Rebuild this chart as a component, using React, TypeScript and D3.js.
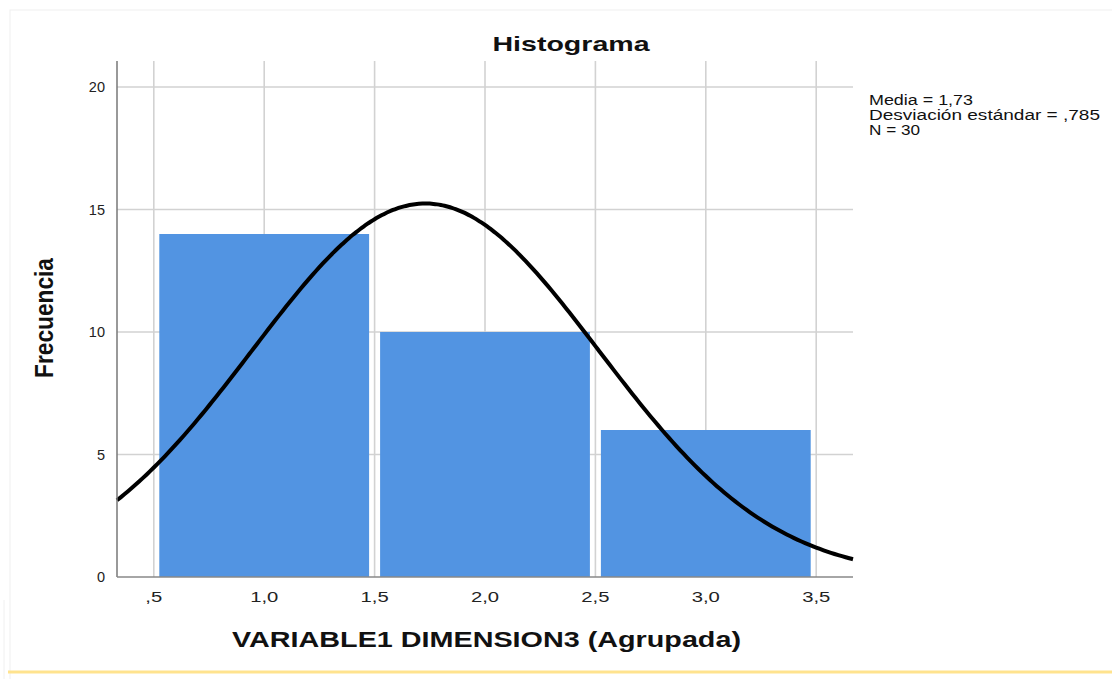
import React from 'react';
import * as d3 from 'd3';

// histogram bins (lower edge, upper edge) and counts
const binStarts = [0.5, 1.5, 2.5];
const binEnds = [1.5, 2.5, 3.5];
const counts = [14, 10, 6];

// summary stats printed in the legend
const mean = 1.73;
const sd = 0.785;
const n = 30;

const xTicks = [0.5, 1.0, 1.5, 2.0, 2.5, 3.0, 3.5];
const yTicks = [0, 5, 10, 15, 20];
const legendLines = ['Media = 1,73', 'Desviación estándar = ,785', 'N = 30'];
const legendWidths = [104, 231, 51];

const W = 1112;
const H = 679;
const left = 117;
const right = 853;
const top = 61;
const bottom = 577;

const fmtX = (v: number) => {
  const s = v.toFixed(1).replace('.', ',');
  return s.startsWith('0') ? s.slice(1) : s;
};

export default function App() {
  const x = d3.scaleLinear().domain([1 / 3, 11 / 3]).range([left, right]);
  const y = d3.scaleLinear().domain([0, 20]).range([bottom, 87]);

  // normal curve scaled to counts (bin width 1)
  const binW = binEnds[0] - binStarts[0];
  const pdf = (v: number) =>
    (n * binW) / (sd * Math.sqrt(2 * Math.PI)) * Math.exp(-0.5 * ((v - mean) / sd) ** 2);
  const curvePts = d3.range(0, 201).map(i => {
    const v = 1 / 3 + (i / 200) * (10 / 3);
    return [v, pdf(v)] as [number, number];
  });
  const line = d3.line<[number, number]>()
    .x(d => x(d[0]))
    .y(d => y(d[1]))
    .curve(d3.curveBasis);

  const font = '"Liberation Sans", Arial, sans-serif';
  const gap = 5.5;

  return (
    <svg width={W} height={H} style={{ position: 'absolute', left: 0, top: 0, background: '#fff' }}>
      <rect x={10} y={10} width={W + 10} height={H} fill="none" stroke="#f0f0f0" strokeWidth={1} />
      <line x1={4} x2={4} y1={600} y2={H} stroke="#f0f0f0" />
      <text x={571} y={51} textAnchor="middle" fontFamily={font} fontWeight="bold" fontSize={21} fill="#111"
        textLength={157} lengthAdjust="spacingAndGlyphs">
        Histograma
      </text>

      {/* grid */}
      {xTicks.map(t => (
        <line key={'gx' + t} x1={x(t)} x2={x(t)} y1={top} y2={bottom} stroke="#d2d2d2" strokeWidth={1.6} />
      ))}
      {yTicks.filter(t => t > 0).map(t => (
        <line key={'gy' + t} x1={left} x2={right} y1={y(t)} y2={y(t)} stroke="#d2d2d2" strokeWidth={1.6} />
      ))}

      {/* bars */}
      {counts.map((c, i) => (
        <rect
          key={'b' + i}
          x={x(binStarts[i]) + gap}
          width={x(binEnds[i]) - x(binStarts[i]) - 2 * gap}
          y={y(c)}
          height={y(0) - y(c)}
          fill="#5294E2"
        />
      ))}

      <path d={line(curvePts) || ''} fill="none" stroke="#000" strokeWidth={4} />

      {/* axes */}
      <line x1={left} x2={left} y1={top} y2={bottom} stroke="#777" strokeWidth={1.5} />
      <line x1={left} x2={right} y1={bottom} y2={bottom} stroke="#888" strokeWidth={1.5} />

      {yTicks.map(t => (
        <text key={'yl' + t} x={105} y={y(t) + 5} textAnchor="end" fontFamily={font} fontSize={14.5} fill="#222">
          {t}
        </text>
      ))}
      {xTicks.map(t => (
        <text key={'xl' + t} transform={`translate(${x(t)}, 602) scale(1.35, 1)`} textAnchor="middle"
          fontFamily={font} fontSize={15} fill="#222">
          {fmtX(t)}
        </text>
      ))}

      <text
        transform={`translate(53, 318) scale(1.26, 1) rotate(-90)`}
        textAnchor="middle"
        fontFamily={font}
        fontWeight="bold"
        fontSize={20}
        fill="#111"
        textLength={120}
        lengthAdjust="spacingAndGlyphs"
      >
        Frecuencia
      </text>
      <text x={486.5} y={647} textAnchor="middle" fontFamily={font} fontWeight="bold" fontSize={22} fill="#111"
        textLength={509} lengthAdjust="spacingAndGlyphs">
        VARIABLE1 DIMENSION3 (Agrupada)
      </text>

      {legendLines.map((s, i) => (
        <text key={'lg' + i} x={869} y={105 + i * 15} fontFamily={font} fontSize={14} fill="#111"
          textLength={legendWidths[i]} lengthAdjust="spacingAndGlyphs">
          {s}
        </text>
      ))}

      <line x1={8} x2={W} y1={672} y2={672} stroke="#FFE38E" strokeWidth={3} />
    </svg>
  );
}
